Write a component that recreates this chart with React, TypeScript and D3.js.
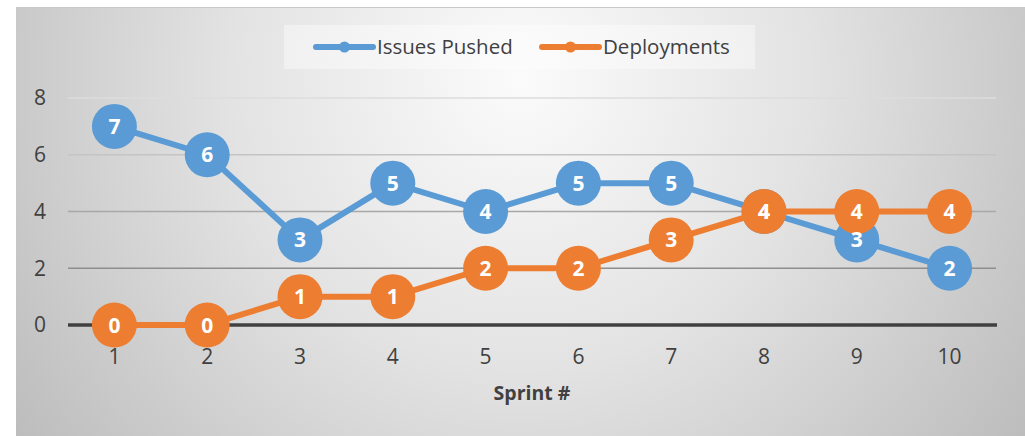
import React from "react";
import * as d3 from "d3";

const sprints = ["1", "2", "3", "4", "5", "6", "7", "8", "9", "10"];
const issuesPushed = [7, 6, 3, 5, 4, 5, 5, 4, 3, 2];
const deployments = [0, 0, 1, 1, 2, 2, 3, 4, 4, 4];
const yTicks = [0, 2, 4, 6, 8];
const seriesNames = ["Issues Pushed", "Deployments"];
const seriesColors = ["#5B9BD5", "#ED7D31"];
const gridColors = ["#404040", "#8e8e8e", "#a8a8a8", "#c4c4c4", "#dcdcdc"];

const W = 1025;
const H = 436;
const FONT = "'Open Sans', 'Noto Sans', sans-serif";

export default function App() {
  const x = d3.scaleBand<string>().domain(sprints).range([68, 996]);
  const y = d3.scaleLinear().domain([0, 8]).range([325, 98]);
  const cx = (s: string) => (x(s) as number) + x.bandwidth() / 2;
  const line = d3
    .line<number>()
    .x((_, i) => cx(sprints[i]))
    .y((d) => y(d));
  const series = [issuesPushed, deployments];

  return (
    <svg
      width={W}
      height={H}
      style={{ position: "absolute", left: 0, top: 0 }}
      fontFamily={FONT}
    >
      <defs>
        <radialGradient id="bg" gradientUnits="userSpaceOnUse" cx={520} cy={80} r={640}>
          <stop offset="0" stopColor="#fbfbfb" />
          <stop offset="0.45" stopColor="#e3e3e3" />
          <stop offset="1" stopColor="#bababa" />
        </radialGradient>
      </defs>
      <rect x={0} y={0} width={W} height={H} fill="#ffffff" />
      <rect x={16} y={7} width={W - 16} height={H - 7} fill="url(#bg)" />
      <line x1={16} x2={W} y1={7.5} y2={7.5} stroke="#c8c8c8" strokeWidth={1} />

      {/* gridlines */}
      {yTicks.map((t, i) =>
        t === 0 ? null : (
          <line
            key={t}
            x1={68}
            x2={996}
            y1={y(t)}
            y2={y(t)}
            stroke={gridColors[i]}
            strokeWidth={1.5}
          />
        )
      )}
      {/* zero axis */}
      <line x1={68} x2={997} y1={y(0)} y2={y(0)} stroke="#404040" strokeWidth={3.5} />

      {/* y tick labels */}
      {yTicks.map((t) => (
        <text
          key={t}
          x={40}
          y={y(t)}
          dy="0.35em"
          textAnchor="middle"
          fontSize={21}
          fill="#404040"
        >
          {t}
        </text>
      ))}
      {/* x tick labels */}
      {sprints.map((s) => (
        <text
          key={s}
          x={cx(s)}
          y={357}
          dy="0.35em"
          textAnchor="middle"
          fontSize={21}
          fill="#404040"
        >
          {s}
        </text>
      ))}
      <text
        x={532}
        y={400}
        textAnchor="middle"
        fontSize={19.5}
        fontWeight="bold"
        fill="#404040"
      >
        Sprint #
      </text>

      {/* series */}
      {series.map((vals, si) => (
        <g key={si}>
          <path
            d={line(vals) as string}
            fill="none"
            stroke={seriesColors[si]}
            strokeWidth={6}
            strokeLinejoin="round"
          />
          {vals.map((v, i) => (
            <circle
              key={i}
              cx={cx(sprints[i])}
              cy={y(v)}
              r={22.5}
              fill={seriesColors[si]}
            />
          ))}
        </g>
      ))}
      {series.map((vals, si) => (
        <g key={"l" + si}>
          {vals.map((v, i) => (
            <text
              key={i}
              x={cx(sprints[i])}
              y={y(v)}
              dy="0.36em"
              textAnchor="middle"
              fontSize={21}
              fontWeight="bold"
              fill="#ffffff"
            >
              {v}
            </text>
          ))}
        </g>
      ))}

      {/* legend */}
      <rect x={284} y={25} width={471} height={44} fill="#ffffff" opacity={0.4} />
      {[
        { x0: 316, x1: 373, tx: 377 },
        { x0: 542, x1: 599, tx: 603 },
      ].map((l, i) => (
        <g key={i}>
          <line
            x1={l.x0}
            x2={l.x1}
            y1={47}
            y2={47}
            stroke={seriesColors[i]}
            strokeWidth={6}
            strokeLinecap="round"
          />
          <circle cx={(l.x0 + l.x1) / 2} cy={47} r={5.5} fill={seriesColors[i]} />
          <text x={l.tx} y={47} dy="0.35em" fontSize={20.5} fill="#404040">
            {seriesNames[i]}
          </text>
        </g>
      ))}
    </svg>
  );
}
